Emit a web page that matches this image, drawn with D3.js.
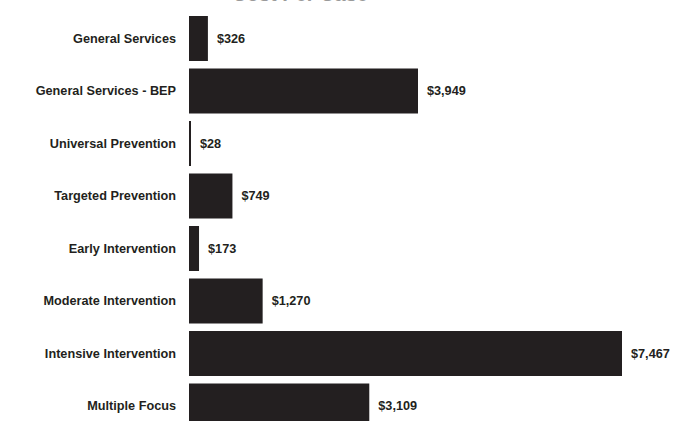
<!DOCTYPE html>
<html lang="en">
<head>
    <meta charset="UTF-8">
    <title>Cost per case</title>
    <style>
        body { margin: 0; background: #fff; }
        svg { display: block; font-family: "Liberation Sans", Arial, sans-serif; }
    </style>
</head>
<body>
    <div id="chart"></div>
    <script src="https://d3js.org/d3.v7.min.js"></script>
    <script>
        // data
        const categories = [
            "General Services",
            "General Services - BEP",
            "Universal Prevention",
            "Targeted Prevention",
            "Early Intervention",
            "Moderate Intervention",
            "Intensive Intervention",
            "Multiple Focus"
        ];
        const costs = [326, 3949, 28, 749, 173, 1270, 7467, 3109];
        const rows = categories.map((c, i) => ({ name: c, value: costs[i] }));

        const WIDTH = 699, HEIGHT = 421;
        const LEFT = 189;
        const INK = "#231f20";
        const FONT = 12.7;

        const svg = d3.select("#chart").append("svg")
            .attr("width", WIDTH)
            .attr("height", HEIGHT);

        // title: only its lowest pixels reach the top edge, as in the source
        svg.append("text")
            .attr("x", 300)
            .attr("y", 1.3)
            .attr("text-anchor", "middle")
            .attr("font-size", 20)
            .attr("font-weight", "bold")
            .attr("fill", "#9a9a9a")
            .text("Cost Per Case");

        const x = d3.scaleLinear()
            .domain([0, 7467])
            .range([LEFT, 622]);

        const y = d3.scaleBand()
            .domain(categories)
            .range([16, 428.5])
            .paddingInner(0.1429)
            .paddingOuter(0);

        // bars
        svg.selectAll("rect.bar")
            .data(rows)
            .enter()
            .append("rect")
            .attr("class", "bar")
            .attr("x", x(0))
            .attr("y", d => y(d.name))
            .attr("width", d => Math.max(2, x(d.value) - x(0)))
            .attr("height", y.bandwidth())
            .attr("fill", INK);

        // category labels
        svg.selectAll("text.cat")
            .data(rows)
            .enter()
            .append("text")
            .attr("class", "cat")
            .attr("x", LEFT - 13)
            .attr("y", d => y(d.name) + y.bandwidth() / 2)
            .attr("dy", "0.35em")
            .attr("text-anchor", "end")
            .attr("font-size", FONT)
            .attr("font-weight", "bold")
            .attr("fill", INK)
            .text(d => d.name);

        // value labels
        const fmt = d3.format(",");
        svg.selectAll("text.val")
            .data(rows)
            .enter()
            .append("text")
            .attr("class", "val")
            .attr("x", d => Math.max(x(d.value), x(0) + 2) + 9)
            .attr("y", d => y(d.name) + y.bandwidth() / 2)
            .attr("dy", "0.35em")
            .attr("font-size", FONT)
            .attr("font-weight", "bold")
            .attr("fill", INK)
            .text(d => "$" + fmt(d.value));
    </script>
</body>
</html>
